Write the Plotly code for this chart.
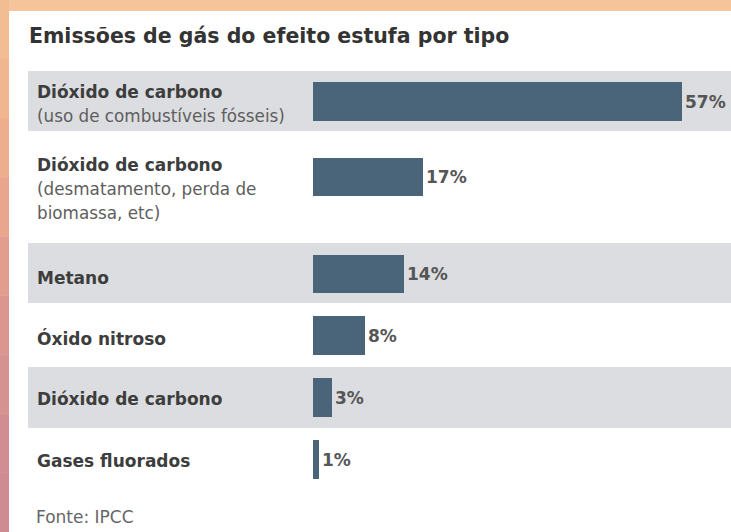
import plotly.graph_objects as go

# ---------------- data ----------------
names = ["Dióxido de carbono", "Dióxido de carbono", "Metano",
         "Óxido nitroso", "Dióxido de carbono", "Gases fluorados"]
notes = ["(uso de combustíveis fósseis)",
         "(desmatamento, perda de\nbiomassa, etc)",
         "", "", "", ""]
values = [57, 17, 14, 8, 3, 1]
title_text = "Emissões de gás do efeito estufa por tipo"
source_text = "Fonte: IPCC"

# ---------------- layout constants (pixels) ----------------
W, H = 731, 532
FONT = "DejaVu Sans"
BAR_COLOR = "#4a6479"
ROW_GREY = "#dcdde0"
first_row_top = 71
row_heights = [60, 112, 60, 64, 61, 62]
bar_center_offset = [30.5, 46, 31, 32.5, 30.5, 31.5]
label_center_offset = [33, 57.5, 35, 35, 31.5, 33]
bar_px_height = 38.5
bar_x0_px = 313
px_per_unit = 6.47

tops = []
t = first_row_top
for h in row_heights:
    tops.append(t)
    t += h
bar_y = [tp + o for tp, o in zip(tops, bar_center_offset)]
label_y = [tp + o for tp, o in zip(tops, label_center_offset)]

fig = go.Figure()
fig.add_trace(go.Bar(
    x=values, y=bar_y, orientation="h", width=bar_px_height,
    marker=dict(color=BAR_COLOR, line=dict(width=0)),
    texttemplate="%{x}%", textposition="outside",
    textfont=dict(family=FONT, size=17, color="#565656", weight="bold"),
    cliponaxis=False, hoverinfo="skip",
))

shapes = []
# left background strip gradient (photo background)
strip_cols = ["#f3bd93", "#f1b68f", "#eeae8e", "#e9a58e", "#e29d8f",
              "#dc9690", "#d69191", "#d18d92", "#cf8b92"]
n = len(strip_cols)
for i, c in enumerate(strip_cols):
    shapes.append(dict(type="rect", xref="paper", yref="paper",
                       x0=0, x1=9 / W, y0=1 - (i + 1) / n, y1=1 - i / n,
                       fillcolor=c, line=dict(width=0), layer="below"))
# white card
shapes.append(dict(type="rect", xref="paper", yref="paper",
                   x0=9 / W, x1=1, y0=0, y1=1 - 11 / H,
                   fillcolor="#ffffff", line=dict(width=0), layer="below"))
# alternating grey rows
for i, (tp, h) in enumerate(zip(tops, row_heights)):
    if i % 2 == 0:
        shapes.append(dict(type="rect", xref="paper", yref="y",
                           x0=28 / W, x1=1, y0=tp, y1=tp + h,
                           fillcolor=ROW_GREY, line=dict(width=0),
                           layer="below"))

annotations = []
annotations.append(dict(text=f"<b>{title_text}</b>", xref="paper", yref="y",
                        x=27 / W, y=36, xanchor="left", yanchor="middle",
                        showarrow=False,
                        font=dict(family=FONT, size=20.5, color="#333333")))
for name, note, yy in zip(names, notes, label_y):
    txt = f"<span style='font-size:17px'><b>{name}</b></span>"
    if note:
        for line in note.split("\n"):
            txt += f"<br><span style='font-size:16.8px;color:#5e5e5e'>{line}</span>"
    annotations.append(dict(text=txt, xref="paper", yref="y", x=35 / W, y=yy,
                            xanchor="left", yanchor="middle", align="left",
                            showarrow=False,
                            font=dict(family=FONT, size=18.5, color="#3d3d3d")))
annotations.append(dict(text=source_text, xref="paper", yref="y",
                        x=34 / W, y=517, xanchor="left", yanchor="middle",
                        showarrow=False,
                        font=dict(family=FONT, size=17, color="#666666")))

fig.update_layout(
    width=W, height=H,
    margin=dict(l=0, r=0, t=0, b=0),
    paper_bgcolor="#f5c49b",
    plot_bgcolor="rgba(0,0,0,0)",
    showlegend=False,
    shapes=shapes,
    annotations=annotations,
    xaxis=dict(domain=[bar_x0_px / W, 1], range=[0, (W - bar_x0_px) / px_per_unit],
               visible=False, fixedrange=True),
    yaxis=dict(domain=[0, 1], range=[H, 0], visible=False, fixedrange=True),
    bargap=0,
)

fig.write_html("out.html",
               config={"displayModeBar": False},
               post_script="document.body.style.margin='0';"
                           "document.body.style.overflow='hidden';")
